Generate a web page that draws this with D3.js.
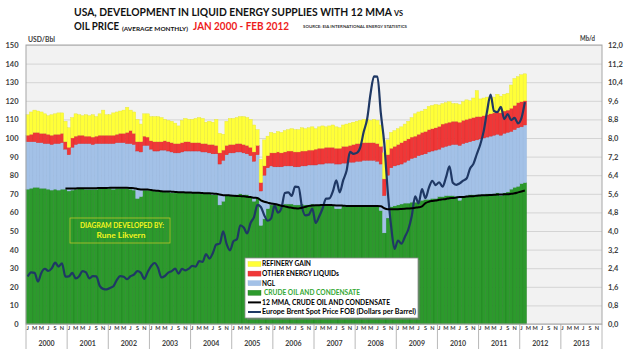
<!DOCTYPE html>
<html><head><meta charset="utf-8">
<script src="https://cdn.jsdelivr.net/npm/d3@7"></script>
<style>
body{margin:0;background:#fff}
svg{display:block;font-family:Lato,"Open Sans",sans-serif;font-weight:bold}
</style>
</head><body><svg id="c" width="629" height="354"></svg>
<script>
// ---------- DATA ----------
const years = ["2000","2001","2002","2003","2004","2005","2006","2007","2008","2009","2010","2011","2012","2013"];
const monthLetters = ["J","F","M","A","M","J","J","A","S","O","N","D"];

// Mb/d, Jan 2000 - Feb 2012
const crude = [
5.80,5.84,5.88,5.88,5.84,5.84,5.80,5.76,5.80,5.76,5.80,5.80,
5.72,5.76,5.80,5.84,5.84,5.80,5.80,5.80,5.80,5.84,5.84,5.84,
5.84,5.80,5.84,5.84,5.84,5.84,5.80,5.76,5.40,5.48,5.76,5.76,
5.76,5.72,5.72,5.72,5.68,5.68,5.64,5.64,5.68,5.68,5.68,5.68,
5.64,5.64,5.64,5.64,5.60,5.60,5.56,5.56,5.12,5.28,5.52,5.56,
5.52,5.56,5.60,5.56,5.56,5.48,5.28,5.44,4.24,4.52,4.96,5.12,
5.16,5.16,5.12,5.16,5.16,5.16,5.12,5.12,5.16,5.12,5.12,5.16,
5.12,5.12,5.16,5.12,5.12,5.08,4.96,4.96,5.08,5.04,5.08,5.08,
5.08,5.08,5.08,5.04,5.04,5.04,5.04,4.88,3.92,4.56,5.04,5.08,
5.12,5.16,5.20,5.20,5.24,5.24,5.28,5.32,5.36,5.36,5.40,5.40,
5.48,5.48,5.52,5.52,5.52,5.48,5.32,5.48,5.52,5.56,5.56,5.56,
5.56,5.56,5.60,5.60,5.60,5.64,5.52,5.64,5.68,5.80,5.88,5.92,
6.04,6.08];
const ngl = [
2.04,2.00,1.96,1.92,1.96,1.92,1.96,1.96,1.96,2.00,2.00,1.72,
1.56,1.84,1.92,1.92,1.92,1.96,1.96,1.92,1.96,1.92,1.92,1.92,
1.92,1.96,1.96,1.96,1.96,1.92,1.96,1.96,2.04,1.92,1.92,1.92,
1.76,1.72,1.72,1.76,1.80,1.76,1.76,1.72,1.68,1.72,1.76,1.76,
1.80,1.80,1.80,1.76,1.80,1.76,1.76,1.76,1.76,1.76,1.76,1.80,
1.84,1.84,1.80,1.80,1.76,1.76,1.72,1.84,1.48,1.88,1.76,1.68,
1.60,1.60,1.64,1.64,1.64,1.64,1.64,1.64,1.64,1.68,1.72,1.68,
1.72,1.76,1.72,1.80,1.80,1.84,1.92,1.92,1.84,1.88,1.88,1.88,
1.92,1.92,1.96,2.00,2.00,2.00,1.96,2.00,1.60,1.84,1.68,1.72,
1.72,1.72,1.76,1.84,1.88,1.92,1.96,1.96,1.96,2.04,2.04,2.08,
2.04,2.12,2.12,2.16,2.20,2.24,2.36,2.28,2.28,2.28,2.32,2.36,
2.40,2.44,2.44,2.48,2.52,2.52,2.60,2.56,2.56,2.48,2.48,2.52,
2.44,2.48];
const otherLiquids = [
0.28,0.32,0.40,0.44,0.40,0.44,0.40,0.40,0.40,0.40,0.40,0.32,
0.32,0.40,0.36,0.36,0.36,0.32,0.32,0.32,0.32,0.36,0.36,0.36,
0.36,0.36,0.36,0.40,0.40,0.48,0.56,0.48,0.40,0.44,0.40,0.36,
0.36,0.40,0.40,0.36,0.40,0.40,0.40,0.40,0.40,0.40,0.40,0.40,
0.36,0.36,0.36,0.36,0.36,0.36,0.40,0.36,0.48,0.44,0.40,0.36,
0.36,0.36,0.36,0.36,0.36,0.36,0.40,0.40,0.36,0.40,0.52,0.56,
0.60,0.64,0.60,0.60,0.64,0.64,0.64,0.64,0.64,0.64,0.64,0.64,
0.68,0.68,0.68,0.68,0.68,0.68,0.68,0.68,0.72,0.72,0.72,0.76,
0.76,0.76,0.76,0.76,0.76,0.76,0.76,0.76,0.72,0.88,0.84,0.84,
0.88,0.92,0.92,0.92,0.92,0.92,0.92,0.96,0.96,0.96,0.96,0.96,
0.98,1.00,1.00,1.00,1.00,1.00,1.00,1.00,1.00,1.00,1.00,1.00,
0.96,0.96,0.96,0.96,0.96,0.96,0.96,0.96,0.96,1.00,1.04,1.08,
1.08,1.04];
const refineryGain = [
0.88,0.96,0.96,0.92,0.92,0.84,0.80,0.88,0.88,0.92,0.88,0.88,
0.84,0.88,0.96,0.88,0.84,0.92,0.88,0.96,0.84,0.92,1.08,0.88,
0.88,0.96,0.96,0.96,1.00,1.08,0.88,0.92,0.96,0.76,0.96,1.00,
1.04,1.08,1.08,1.04,0.92,0.92,0.92,0.88,0.76,0.96,1.00,0.96,
1.00,1.04,1.08,1.08,0.92,1.00,0.96,1.12,0.84,0.68,1.04,1.12,
1.12,1.12,1.16,1.20,1.20,1.20,1.16,0.68,1.00,1.12,0.84,0.88,
0.84,0.88,0.88,0.92,0.92,0.96,0.96,0.96,1.00,0.96,0.96,1.00,
0.88,0.92,0.96,0.88,0.92,0.96,0.92,0.88,0.92,0.96,0.96,0.96,
0.96,1.00,1.00,1.00,0.96,1.00,1.00,0.92,1.12,0.64,0.68,0.68,
0.68,0.68,0.72,0.76,0.84,0.96,0.96,0.92,0.96,1.00,1.00,1.00,
0.92,0.88,0.88,0.88,0.76,0.76,0.76,0.80,0.84,0.76,0.84,1.12,
0.76,0.76,0.76,0.68,0.68,0.76,0.72,0.72,0.72,1.00,1.16,1.12,
1.16,1.16];
// 12 month moving average of crude, Dec 2000 - Feb 2012 (Mb/d)
const mmaStartIndex = 11;
const crudeMMA = [
5.83,
5.83,5.83,5.83,5.84,5.84,5.84,5.84,5.84,5.84,5.85,5.85,5.85,
5.86,5.86,5.86,5.86,5.86,5.86,5.85,5.84,5.81,5.79,5.78,5.78,
5.76,5.74,5.73,5.71,5.70,5.70,5.69,5.68,5.67,5.67,5.66,5.66,
5.65,5.64,5.64,5.63,5.62,5.62,5.61,5.60,5.57,5.54,5.54,5.53,
5.52,5.51,5.50,5.49,5.47,5.46,5.43,5.42,5.32,5.26,5.22,5.18,
5.16,5.13,5.09,5.06,5.02,5.00,4.98,4.97,5.00,5.04,5.08,5.10,
5.11,5.11,5.12,5.12,5.12,5.11,5.10,5.10,5.09,5.08,5.08,5.08,
5.07,5.07,5.07,5.07,5.07,5.07,5.07,5.06,4.98,4.94,4.94,4.94,
4.94,4.95,4.96,4.97,4.98,5.00,5.02,5.06,5.20,5.26,5.29,5.31,
5.34,5.36,5.38,5.41,5.42,5.44,5.46,5.46,5.48,5.50,5.50,5.52,
5.53,5.54,5.54,5.55,5.56,5.57,5.57,5.58,5.58,5.60,5.62,5.66,
5.70,5.74];
// Europe Brent spot price FOB, USD/Bbl
const brent = [
25.5,27.8,27.5,22.8,27.6,29.7,28.5,29.9,33.0,30.9,32.6,25.5,
25.6,27.5,24.5,25.7,28.4,27.7,24.5,25.7,25.6,20.5,18.9,18.6,
19.4,20.3,23.7,25.7,25.4,24.1,25.7,26.6,28.4,27.5,24.3,28.0,
31.2,32.8,30.3,25.0,25.8,27.6,28.4,29.8,27.1,29.6,28.8,29.8,
31.2,30.9,33.8,33.4,37.6,35.2,38.2,42.7,43.2,49.8,43.1,39.6,
44.5,45.5,53.1,51.9,48.7,54.3,57.5,64.0,62.9,58.5,55.5,56.8,
63.6,59.9,62.3,70.4,70.8,68.9,73.9,73.6,62.8,58.4,58.8,62.1,
54.3,57.8,62.1,67.4,67.5,71.3,77.2,70.8,77.2,82.4,92.5,91.5,
92.0,95.0,103.3,110.2,123.9,133.1,133.0,113.2,97.1,71.6,52.5,40.4,
44.9,43.2,46.8,50.8,57.9,68.6,64.9,72.5,67.7,73.2,77.0,74.7,
76.2,73.8,78.8,84.8,75.9,74.8,75.6,77.1,78.2,83.5,86.1,91.4,
96.5,103.7,114.6,123.3,114.5,113.9,116.7,110.2,112.8,109.6,110.8,107.9,
110.7,119.3];

const leftTicks = [0,10,20,30,40,50,60,70,80,90,100,110,120,130,140,150];
const rightTicks = [0,0.8,1.6,2.4,3.2,4.0,4.8,5.6,6.4,7.2,8.0,8.8,9.6,10.4,11.2,12.0];
const rightTickLabels = ["0,0","0,8","1,6","2,4","3,2","4,0","4,8","5,6","6,4","7,2","8,0","8,8","9,6","10,4","11,2","12,0"];

const seriesNames = ["REFINERY GAIN","OTHER ENERGY LIQUIDs","NGL","CRUDE OIL AND CONDENSATE","12 MMA, CRUDE OIL AND CONDENSATE","Europe Brent Spot Price FOB (Dollars per Barrel)"];

// ---------- CHART ----------
const svg = d3.select("#c");
const X0 = 26, X1 = 602, Y0 = 45, Y1 = 324;
const nMonths = years.length * 12;
const x = d3.scaleBand().domain(d3.range(nMonths)).range([X0, X1]).padding(0);
const bw = x.bandwidth();
const yL = d3.scaleLinear().domain([0, 150]).range([Y1, Y0]);
const yR = d3.scaleLinear().domain([0, 12]).range([Y1, Y0]);

const colors = {crude:"#2c9a2c", ngl:"#a3c1e7", other:"#f03737", refinery:"#ffff38"};
const strokes = {crude:"#1e7d1e", ngl:"#93b3dc", other:"#d42a2a", refinery:"#e4e43a"};

// background
svg.append("rect").attr("x", X0).attr("y", Y0).attr("width", X1 - X0).attr("height", Y1 - Y0).attr("fill", "#f2f2f2");

// gridlines
const grid = svg.append("g").attr("transform", `translate(${X0},0)`)
  .call(d3.axisLeft(yL).tickValues(leftTicks).tickSize(-(X1 - X0)).tickFormat(""));
grid.select(".domain").remove();
grid.selectAll("line").attr("stroke", "#d4d4d4").attr("stroke-width", 1);

// stacked bars
const rows = crude.map((c, i) => ({i, crude: c, ngl: ngl[i], other: otherLiquids[i], refinery: refineryGain[i]}));
const stacked = d3.stack().keys(["crude", "ngl", "other", "refinery"])(rows);
stacked.forEach(layer => {
  svg.append("g").selectAll("rect").data(layer).join("rect")
    .attr("x", d => x(d.data.i))
    .attr("width", bw)
    .attr("y", d => yR(d[1]))
    .attr("height", d => yR(d[0]) - yR(d[1]))
    .attr("fill", colors[layer.key])
    .attr("stroke", strokes[layer.key])
    .attr("stroke-width", 0.4);
});

// lines
const brentLine = d3.line().x((d, i) => x(i) + bw / 2).y(d => yL(d)).curve(d3.curveMonotoneX);
svg.append("path").datum(brent).attr("d", brentLine)
  .attr("fill", "none").attr("stroke", "#1f3864").attr("stroke-width", 2.2);

const mmaLine = d3.line().x((d, i) => x(i + mmaStartIndex) + bw / 2).y(d => yR(d)).curve(d3.curveMonotoneX);
svg.append("path").datum(crudeMMA).attr("d", mmaLine)
  .attr("fill", "none").attr("stroke", "#000").attr("stroke-width", 2);

// plot border
svg.append("rect").attr("x", X0).attr("y", Y0).attr("width", X1 - X0).attr("height", Y1 - Y0)
  .attr("fill", "none").attr("stroke", "#a6a6a6").attr("stroke-width", 1);

// left axis
const la = svg.append("g").attr("transform", `translate(${X0},0)`)
  .call(d3.axisLeft(yL).tickValues(leftTicks).tickSize(0).tickPadding(7.5));
la.select(".domain").remove();
la.selectAll("text").attr("font-size", 7.5).attr("font-family", "Lato, sans-serif").attr("font-weight", "bold").attr("fill", "#404040");

// right axis
const ra = svg.append("g").attr("transform", `translate(${X1},0)`)
  .call(d3.axisRight(yR).tickValues(rightTicks).tickFormat((d, i) => rightTickLabels[i]).tickSize(0).tickPadding(6));
ra.select(".domain").remove();
ra.selectAll("text").attr("font-size", 7.5).attr("font-family", "Lato, sans-serif").attr("font-weight", "bold").attr("fill", "#404040");

// bottom axis: month letters
const ba = svg.append("g").attr("transform", `translate(0,${Y1})`)
  .call(d3.axisBottom(x).tickValues(d3.range(0, nMonths, 2)).tickFormat(i => monthLetters[i % 12]).tickSize(0).tickPadding(2.5));
ba.select(".domain").remove();
ba.selectAll("text").attr("font-size", 5.6).attr("font-family", "Lato, sans-serif").attr("font-weight", "bold").attr("fill", "#404040");

// year separators and labels
years.forEach((yr, k) => {
  svg.append("line").attr("x1", x(k * 12)).attr("x2", x(k * 12)).attr("y1", Y1).attr("y2", 349)
    .attr("stroke", "#a6a6a6").attr("stroke-width", 0.8);
  svg.append("text").attr("x", x(k * 12) + 6 * bw).attr("y", 345.5).attr("text-anchor", "middle")
    .attr("font-size", 7).attr("fill", "#404040").text(yr);
});
svg.append("line").attr("x1", X1).attr("x2", X1).attr("y1", Y1).attr("y2", 349).attr("stroke", "#a6a6a6").attr("stroke-width", 0.8);

// helper text
function txt(s, xp, yp, size, fill, len, anchor) {
  const t = svg.append("text").attr("x", xp).attr("y", yp).attr("font-size", size).attr("fill", fill).text(s);
  if (anchor) t.attr("text-anchor", anchor);
  if (len) t.attr("textLength", len).attr("lengthAdjust", "spacingAndGlyphs");
  return t;
}

// titles (small-caps renders the trailing "vs" as small capitals, as in the original)
txt("USA, DEVELOPMENT IN LIQUID ENERGY SUPPLIES WITH 12 MMA vs", 74, 16, 11.2, "#111", 329)
  .style("font-variant", "small-caps");
txt("OIL PRICE", 74, 29.5, 11.5, "#111", 45);
txt("(AVERAGE MONTHLY)", 122, 31, 6, "#111", 66);
txt("JAN 2000 - FEB 2012", 193, 29.5, 11.5, "#ee1c1c", 96);
txt("SOURCE: EIA INTERNATIONAL ENERGY STATISTICS", 303, 28, 3.6, "#333", 104);
txt("USD/Bbl", 28, 41.5, 7, "#404040", 27);
txt("Mb/d", 580, 40.5, 7, "#404040", 15);

// legend
const lg = svg.append("g");
lg.append("rect").attr("x", 247).attr("y", 260).attr("width", 173).attr("height", 60).attr("fill", "#777").attr("opacity", 0.5);
lg.append("rect").attr("x", 245).attr("y", 258).attr("width", 173).attr("height", 60).attr("fill", "#fff").attr("stroke", "#8c8c8c").attr("stroke-width", 0.8);
const legendY = [264, 273.6, 283.2, 292.8, 302.4, 312];
const legendLen = [49, 77, 13, 96, 128, 154];
const legendTextColor = ["#000", "#000", "#000", "#33a833", "#000", "#000"];
const swatchColors = [colors.refinery, colors.other, colors.ngl, colors.crude];
const swatchStrokes = [strokes.refinery, strokes.other, strokes.ngl, strokes.crude];
seriesNames.forEach((name, k) => {
  const cy = legendY[k];
  if (k < 4) {
    lg.append("rect").attr("x", 248).attr("y", cy - 2.5).attr("width", 13).attr("height", 5)
      .attr("fill", swatchColors[k]).attr("stroke", swatchStrokes[k]).attr("stroke-width", 0.4);
  } else {
    lg.append("line").attr("x1", 248).attr("x2", 261).attr("y1", cy).attr("y2", cy)
      .attr("stroke", k === 4 ? "#000" : "#1f3864").attr("stroke-width", 2);
  }
  lg.append("text").attr("x", k === 3 ? 264 : 262).attr("y", cy + 2.4).attr("font-size", 7)
    .attr("fill", legendTextColor[k]).attr("textLength", legendLen[k]).attr("lengthAdjust", "spacingAndGlyphs").text(name);
});

// diagram box
svg.append("rect").attr("x", 70).attr("y", 218).attr("width", 100).attr("height", 25)
  .attr("fill", "none").attr("stroke", "#bcc62a").attr("stroke-width", 0.8);
txt("DIAGRAM DEVELOPED BY:", 122, 227.7, 6.5, "#f5f51e", 84, "middle");
txt("Rune Likvern", 121, 238.2, 8, "#f5f51e", 49, "middle");
</script>
</body></html>
